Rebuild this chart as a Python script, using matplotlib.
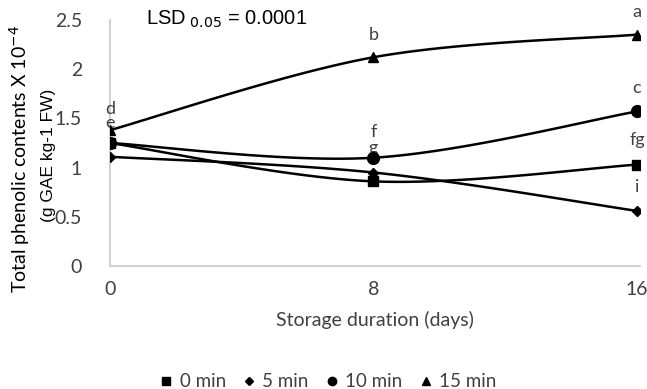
import numpy as np
import matplotlib.pyplot as plt
from matplotlib.lines import Line2D

# Storage days and total phenolic contents per dipping time
days = [0, 8, 16]
min0 = [1.25, 0.86, 1.03]
min5 = [1.11, 0.95, 0.56]
min10 = [1.25, 1.10, 1.57]
min15 = [1.38, 2.12, 2.35]
series_names = ['0 min', '5 min', '10 min', '15 min']
series_markers = ['s', 'D', 'o', '^']

# significance letters per series and day
letters_min0 = ['e', 'g', 'fg']
letters_min5 = ['', '', 'i']
letters_min10 = ['', 'f', 'c']
letters_min15 = ['d', 'b', 'a']


def smooth(x, y, n=60):
    # Bezier spline through the points, like spreadsheet "smoothed line"
    x = np.asarray(x, float)
    y = np.asarray(y, float)
    px = np.concatenate([[x[0]], x, [x[-1]]])
    py = np.concatenate([[y[0]], y, [y[-1]]])
    xs, ys = [], []
    t = np.linspace(0, 1, n)
    for i in range(1, len(px) - 2):
        p0 = np.array([px[i], py[i]])
        p3 = np.array([px[i + 1], py[i + 1]])
        p1 = p0 + (np.array([px[i + 1], py[i + 1]]) - np.array([px[i - 1], py[i - 1]])) / 6
        p2 = p3 - (np.array([px[i + 2], py[i + 2]]) - np.array([px[i], py[i]])) / 6
        b = ((1 - t) ** 3)[:, None] * p0 + (3 * (1 - t) ** 2 * t)[:, None] * p1 \
            + (3 * (1 - t) * t ** 2)[:, None] * p2 + (t ** 3)[:, None] * p3
        xs.append(b[:, 0])
        ys.append(b[:, 1])
    return np.concatenate(xs), np.concatenate(ys)


fig = plt.figure(figsize=(6.47, 3.89), dpi=100)
ax = fig.add_axes([0.170, 0.316, 0.819, 0.633])

all_series = [min0, min5, min10, min15]
marker_sizes = [7.5, 5, 8.5, 7.5]
for vals, m, ms in zip(all_series, series_markers, marker_sizes):
    sx, sy = smooth(days, vals)
    ax.plot(sx, sy, color='black', lw=1.8, zorder=3)
    ax.plot(days, vals, ls='none', marker=m, color='black', ms=ms, zorder=4)

# letters above the points
label_font = dict(family='Lato', fontsize=13, color='#404040', ha='center', va='bottom')
ax.text(days[0], min15[0] + 0.13, letters_min15[0], **label_font)
ax.text(days[0], min0[0] + 0.12, letters_min0[0], **label_font)
ax.text(days[1], min15[1] + 0.14, letters_min15[1], **label_font)
ax.text(days[1], min10[1] + 0.18, letters_min10[1], **label_font)
ax.text(days[1], min0[1] + 0.26, letters_min0[1], **label_font)
ax.text(days[2], min15[2] + 0.15, letters_min15[2], **label_font)
ax.text(days[2], min10[2] + 0.16, letters_min10[2], **label_font)
ax.text(days[2], min0[2] + 0.17, letters_min0[2], **label_font)
ax.text(days[2], min5[2] + 0.16, letters_min5[2], **label_font)

ax.text(1.1, 2.5, r'LSD$_{\ 0.05}$ = 0.0001', family='Liberation Sans',
        fontsize=14.5, va='center', ha='left', color='black')

ax.set_xlim(0, 16.09)
ax.set_ylim(0, 2.5)
ax.set_xticks(days)
ax.set_xticklabels([str(d) for d in days], family='Lato', fontsize=14, color='#404040')
ax.set_yticks([0, 0.5, 1, 1.5, 2, 2.5])
ax.set_yticklabels(['0', '0.5', '1', '1.5', '2', '2.5'], family='Lato',
                   fontsize=14, color='#404040')
ax.tick_params(axis='x', length=0, pad=11)
ax.tick_params(axis='y', length=0, pad=20)
for side in ['top', 'right']:
    ax.spines[side].set_visible(False)
for side in ['left', 'bottom']:
    ax.spines[side].set_color('#c8c8c8')
    ax.spines[side].set_linewidth(1.2)

ax.set_xlabel('Storage duration (days)', family='Lato', fontsize=14,
              color='#404040', labelpad=9)

# two-line y axis title
fig.text(20 / 647, 1 - 159 / 389, 'Total phenolic contents X 10$^{-4}$',
         family='Lato', fontsize=14, rotation=90, ha='center', va='center',
         color='black')
fig.text(49 / 647, 1 - 155 / 389, '(g GAE kg-1 FW)',
         family='Liberation Sans', fontsize=12.5, rotation=90, ha='center',
         va='center', color='black')

handles = [Line2D([], [], ls='none', marker=m, color='black', ms=ms)
           for m, ms in zip(series_markers, [5.5, 4, 6, 5.5])]
fig.legend(handles, series_names, loc='center', bbox_to_anchor=(0.508, 0.018),
           ncol=4, frameon=False, prop={'family': 'Lato', 'size': 13.5},
           handletextpad=0.4, columnspacing=0.95, handlelength=0.6,
           labelcolor='#404040', borderpad=0)

fig.savefig('out.png', dpi=100)
